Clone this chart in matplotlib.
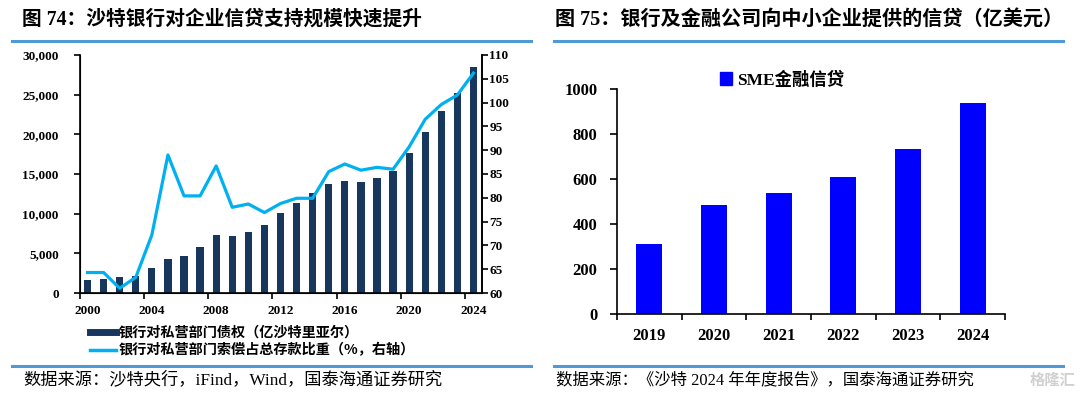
import matplotlib
matplotlib.use("Agg")
import matplotlib.pyplot as plt
from matplotlib.lines import Line2D
from matplotlib.patches import Patch
from matplotlib.ticker import FuncFormatter
import numpy as np

# ---- data: left chart (fig 74) ----
years_l = list(range(2000, 2025))
claims = [1600, 1800, 2000, 2200, 3100, 4300, 4700, 5800, 7350, 7200, 7700, 8600,
          10050, 11300, 12600, 13700, 14100, 14000, 14500, 15400, 17600, 20300,
          22900, 25200, 28500]
claims_ratio = [64.3, 64.3, 61.0, 63.3, 72.2, 89.0, 80.4, 80.4, 86.7, 78.0, 78.7, 76.9,
                78.8, 79.9, 79.9, 85.5, 87.1, 85.8, 86.4, 86.0, 90.7, 96.5, 99.6,
                101.6, 106.2]
label_bar = "银行对私营部门债权（亿沙特里亚尔）"
label_line = "银行对私营部门索偿占总存款比重（%，右轴）"

# ---- data: right chart (fig 75) ----
years_r = ["2019", "2020", "2021", "2022", "2023", "2024"]
sme_credit = [312, 487, 540, 612, 736, 939]
label_sme = "SME金融信贷"

title_l = "图 74：沙特银行对企业信贷支持规模快速提升"
title_r = "图 75：银行及金融公司向中小企业提供的信贷（亿美元）"
source_l = "数据来源：沙特央行，iFind，Wind，国泰海通证券研究"
source_r = "数据来源：《沙特 2024 年年度报告》，国泰海通证券研究"

NAVY = "#17375E"
CYAN = "#00B0F0"
BLUE = "#0000FF"
RULE = "#4F9AD6"
SERIF = ["Liberation Serif", "Noto Sans CJK SC"]
CJK = ["Noto Sans CJK SC", "DejaVu Sans"]

W, H = 1080, 395
fig = plt.figure(figsize=(W / 100, H / 100), dpi=100)


def fx(px):
    return px / W


def fy(py):
    return 1 - py / H


# titles and rules
fig.text(fx(22), fy(20), title_l, family=SERIF, fontsize=14.2, fontweight="bold",
         va="center", ha="left")
fig.text(fx(555), fy(20), title_r, family=SERIF, fontsize=14.5, fontweight="bold",
         va="center", ha="left")
for x0, x1 in [(12, 531), (554, 1063)]:
    fig.add_artist(Line2D([fx(x0), fx(x1)], [fy(41), fy(41)], color=RULE, lw=2.2))
    fig.add_artist(Line2D([fx(x0), fx(x1)], [fy(366), fy(366)], color=RULE, lw=2.2))
fig.text(fx(23), fy(380), source_l, family=SERIF, fontsize=12.4, va="center", ha="left")
fig.text(fx(556), fy(380), source_r, family=SERIF, fontsize=11.8, va="center", ha="left")
fig.text(fx(1075), fy(380), "格隆汇", family=CJK, fontsize=11, color="#d0d0d0",
         va="center", ha="right", fontweight="bold")

# ---- left chart ----
ax = fig.add_axes([fx(79.5), fy(293), fx(402), 238 / H])
x = np.arange(len(years_l))
ax.bar(x, claims, width=0.45, color=NAVY, zorder=2)
ax.set_xlim(-0.5, len(years_l) - 0.5)
ax.set_ylim(0, 30000)
ax.set_yticks(np.arange(0, 30001, 5000))
ax.yaxis.set_major_formatter(FuncFormatter(lambda v, p: f"{int(v):,}"))
ax.set_xticks(np.arange(-0.5, len(years_l), 4))
ax.set_xticklabels([])
ax.set_xticks(x[::4], minor=True)
ax.set_xticklabels([str(years_l[i]) for i in x[::4]], minor=True)
ax.tick_params(axis="x", which="major", direction="out", length=4, width=1.2)
ax.tick_params(axis="x", which="minor", length=0, pad=9)
ax.tick_params(axis="y", direction="out", length=4, width=1.2, pad=11)
for lab in ax.get_xticklabels(minor=True) + ax.get_yticklabels():
    lab.set_fontfamily("Liberation Serif")
    lab.set_fontweight("bold")
    lab.set_fontsize(9.5)
ax.spines["top"].set_visible(False)
for s in ["left", "bottom", "right"]:
    ax.spines[s].set_linewidth(1.2)

ax2 = ax.twinx()
ax2.plot(x, claims_ratio, color=CYAN, lw=2.3, zorder=3)
ax2.set_ylim(60, 110)
ax2.set_yticks(np.arange(60, 111, 5))
ax2.tick_params(axis="y", direction="out", length=4, width=1.2, pad=1.5)
for lab in ax2.get_yticklabels():
    lab.set_fontfamily("Liberation Serif")
    lab.set_fontweight("bold")
    lab.set_fontsize(9.5)
ax2.spines["top"].set_visible(False)
ax2.spines["right"].set_linewidth(1.2)

handles = [Line2D([], [], color=NAVY, lw=5), Line2D([], [], color=CYAN, lw=2.5)]
fig.legend(handles, [label_bar, label_line], loc="upper left",
           bbox_to_anchor=(fx(90), fy(326)), frameon=False,
           prop={"family": CJK, "weight": "bold", "size": 10.2},
           handlelength=1.8, handletextpad=0.2, labelspacing=0.25,
           borderpad=0, borderaxespad=0)

# ---- right chart ----
bx = fig.add_axes([fx(617), fy(314.3), fx(388), 225 / H])
xr = np.arange(len(years_r))
bars = bx.bar(xr, sme_credit, width=0.4, color=BLUE, zorder=2, label=label_sme)
bx.set_xlim(-0.5, len(years_r) - 0.5)
bx.set_ylim(0, 1000)
bx.set_yticks(np.arange(0, 1001, 200))
bx.set_xticks(np.arange(-0.5, len(years_r), 1))
bx.set_xticklabels([])
bx.set_xticks(xr, minor=True)
bx.set_xticklabels(years_r, minor=True)
bx.tick_params(axis="x", which="major", direction="out", length=4, width=1.2)
bx.tick_params(axis="x", which="minor", length=0, pad=10)
bx.tick_params(axis="y", direction="out", length=5, width=1.2, pad=9)
for lab in bx.get_xticklabels(minor=True) + bx.get_yticklabels():
    lab.set_fontfamily("Liberation Serif")
    lab.set_fontweight("bold")
    lab.set_fontsize(12)
bx.spines["top"].set_visible(False)
bx.spines["right"].set_visible(False)
for s in ["left", "bottom"]:
    bx.spines[s].set_linewidth(1.2)

bx.legend(handles=[Patch(color=BLUE)], labels=[label_sme], loc="center left",
          bbox_to_anchor=(fx(720), fy(80)), bbox_transform=fig.transFigure,
          frameon=False, prop={"family": SERIF, "weight": "bold", "size": 12.5},
          handlelength=0.7, handleheight=0.7, handletextpad=0.3,
          borderpad=0, borderaxespad=0)

fig.savefig("out.png", dpi=100)
